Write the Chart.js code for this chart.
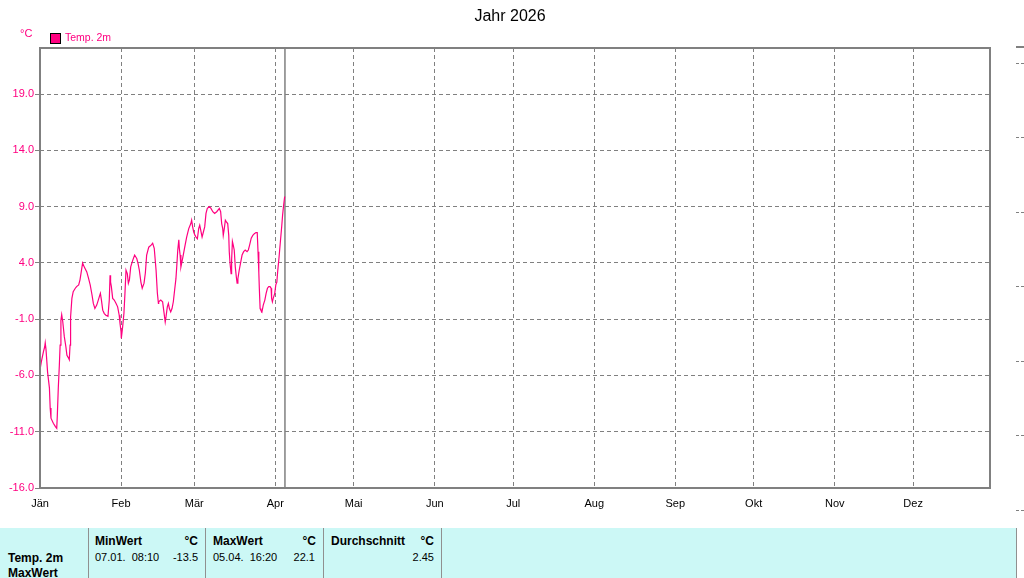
<!DOCTYPE html>
<html>
<head>
<meta charset="utf-8">
<script src="https://cdn.jsdelivr.net/npm/chart.js@4"></script>
<style>
  html, body { margin:0; padding:0; background:#fff; width:1024px; height:578px; overflow:hidden; font-family:"Liberation Sans", Arial, sans-serif; }
  #wrap { position:absolute; left:0; top:0; width:1024px; height:520px; }
  .abs { position:absolute; white-space:pre; }
  #title { left:0; width:1020px; top:7px; text-align:center; font-size:16px; color:#000; }
  #unit { left:20px; top:27px; font-size:11px; color:#ff0080; }
  #legbox { left:50px; top:33px; width:9px; height:9px; background:#ff0080; border:1px solid #000; }
  #legtxt { left:65px; top:31px; font-size:10.5px; color:#ff0080; }
  #table { position:absolute; left:0; top:528px; width:1016px; height:50px; background:#ccf8f6; overflow:hidden; }
  .sep { position:absolute; top:0; width:1px; height:50px; background:#909090; }
  .t { position:absolute; white-space:pre; font-size:11px; color:#000; }
  .b { font-weight:bold; font-size:12px; }
  .r { text-align:right; }
  .rdash { position:absolute; left:1016px; width:8px; height:0; border-top:1px dashed #808080; }
</style>
</head>
<body>
<div id="wrap"><canvas id="c" width="1024" height="520"></canvas></div>
<div id="title" class="abs">Jahr 2026</div>
<div id="unit" class="abs">°C</div>
<div id="legbox" class="abs"></div>
<div id="legtxt" class="abs">Temp. 2m</div>

<div id="table">
  <div class="sep" style="left:88px"></div>
  <div class="sep" style="left:205px"></div>
  <div class="sep" style="left:323px"></div>
  <div class="sep" style="left:441px"></div>
  <div class="t b" style="left:8px; top:23px">Temp. 2m</div>
  <div class="t b" style="left:8px; top:38px">MaxWert</div>
  <div class="t b" style="left:95px; top:6px">MinWert</div>
  <div class="t b r" style="left:150px; width:48px; top:6px">°C</div>
  <div class="t" style="left:95px; top:23px">07.01.  08:10</div>
  <div class="t r" style="left:150px; width:48px; top:23px">-13.5</div>
  <div class="t b" style="left:213px; top:6px">MaxWert</div>
  <div class="t b r" style="left:270px; width:46px; top:6px">°C</div>
  <div class="t" style="left:213px; top:23px">05.04.  16:20</div>
  <div class="t r" style="left:270px; width:45px; top:23px">22.1</div>
  <div class="t b" style="left:331px; top:6px">Durchschnitt</div>
  <div class="t b r" style="left:390px; width:44px; top:6px">°C</div>
  <div class="t r" style="left:390px; width:44px; top:23px">2.45</div>
</div>
<div class="abs" style="left:1016px; top:528px; width:1px; height:50px; background:#909090"></div>
<div class="abs" style="left:1016px; top:46px; width:8px; height:2px; background:#808080"></div>
<div class="rdash" style="top:63px"></div>
<div class="rdash" style="top:137px"></div>
<div class="rdash" style="top:212px"></div>
<div class="rdash" style="top:286px"></div>
<div class="rdash" style="top:361px"></div>
<div class="rdash" style="top:435px"></div>
<div class="rdash" style="top:510px"></div>

<script>
// ---- data ----
const monthStarts = [0,31,59,90,120,151,181,212,243,273,304,334];
const monthLabels = ["Jän","Feb","Mär","Apr","Mai","Jun","Jul","Aug","Sep","Okt","Nov","Dez"];
const yTicks = [-16,-11,-6,-1,4,9,14,19];
const seriesName = "Temp. 2m";
const nowDay = 93.7;
const days = [0.0,0.5,1.3,1.8,2.0,2.3,2.9,3.6,3.9,4.2,5.1,5.9,6.4,6.6,7.0,7.4,7.7,8.0,8.3,8.7,9.3,9.9,10.3,11.0,11.2,11.5,11.7,12.2,12.7,13.5,14.0,14.8,15.3,15.7,16.3,16.9,17.9,18.6,19.2,19.9,20.4,21.0,21.7,22.3,22.7,23.1,23.5,24.0,24.6,25.2,26.0,26.5,26.8,27.0,27.3,27.8,28.4,29.1,29.7,30.3,30.6,31.0,31.1,31.6,32.1,32.5,32.9,33.4,33.8,34.2,34.7,35.5,36.2,37.0,37.5,38.0,38.6,39.1,39.8,40.3,40.8,41.6,42.6,43.1,43.7,44.4,44.9,45.3,45.4,46.2,46.9,47.4,47.9,48.2,48.7,49.1,49.5,50.0,50.5,51.0,51.5,52.0,52.3,52.7,53.1,53.3,53.6,53.9,54.3,54.8,55.4,56.1,56.9,57.7,58.0,58.4,58.8,59.3,59.7,60.2,60.7,61.1,61.5,62.0,62.5,63.0,63.5,64.0,64.8,65.4,66.1,66.8,67.6,68.6,69.1,69.5,69.9,70.1,70.5,70.9,71.3,71.8,72.2,72.4,72.7,73.1,73.3,73.6,73.9,74.3,74.7,75.1,75.4,75.7,76.2,76.8,77.3,77.9,78.5,79.2,79.7,80.2,80.8,81.4,82.0,82.6,83.1,83.4,83.7,83.9,84.2,84.5,84.9,85.4,86.0,86.5,87.0,87.5,88.0,88.4,88.6,88.9,89.2,89.8,90.2,90.6,90.9,91.4,91.9,92.5,92.8,93.2,93.6];
const temps = [-5.5,-4.8,-3.9,-3.45,-3.1,-3.7,-5.7,-7.1,-8.9,-9.8,-10.25,-10.55,-10.7,-9.7,-7.1,-5.1,-3.3,-1.1,-0.6,-1.2,-2.55,-3.45,-4.2,-4.5,-4.6,-3.3,-0.8,0.85,1.45,1.75,1.9,2.05,2.5,3.1,4.0,3.65,3.2,2.6,2.05,1.15,0.4,-0.05,0.25,0.7,1.0,1.3,0.7,-0.2,-0.5,-0.65,-0.75,0.7,2.9,2.3,1.9,0.85,0.7,0.4,0.1,-0.65,-1.35,-2.1,-2.7,-1.7,-0.5,1.3,3.35,3.05,2.2,2.5,3.65,4.25,4.7,4.4,3.95,3.35,2.3,1.75,2.2,3.1,4.7,5.4,5.6,5.75,5.3,3.35,1.3,0.4,0.55,0.7,0.55,-0.35,-1.25,-0.8,0.1,0.4,-0.05,-0.35,-0.05,0.55,1.6,2.6,3.65,5.15,6.05,5.3,4.7,3.65,4.1,4.7,5.45,6.3,7.05,7.5,7.8,7.2,6.75,6.45,6.3,6.15,7.05,7.35,6.9,6.3,6.75,7.2,8.4,8.85,9.0,8.85,8.55,8.4,8.55,8.85,8.55,7.5,7.05,6.45,7.05,7.8,7.65,7.5,6.45,5.0,3.95,3.05,4.25,5.9,5.6,5.15,3.65,2.75,2.2,2.6,3.35,4.1,4.7,5.0,5.15,5.0,5.15,5.6,6.2,6.45,6.6,6.7,6.7,5.0,3.2,1.75,-0.05,-0.2,-0.35,0.25,0.7,1.3,1.75,1.9,1.9,1.75,0.85,0.55,0.85,1.3,2.05,2.3,3.2,4.4,5.75,7.35,8.25,9.15,9.9];
const yMin = -16, yMax = 23.1, xMax = 363.4;

const frame = {
  id: 'frame',
  afterDraw(chart) {
    const {ctx, chartArea:a} = chart;
    ctx.save();
    ctx.strokeStyle = '#808080';
    ctx.lineWidth = 2;
    ctx.strokeRect(a.left, a.top, a.right - a.left, a.bottom - a.top);
    ctx.restore();
  }
};

new Chart(document.getElementById('c'), {
  type: 'line',
  data: {
    datasets: [
      { label: seriesName, data: days.map((d,i)=>({x:d, y:temps[i]})), borderColor:'#ff0080', backgroundColor:'#ff0080', borderWidth:1.2, pointRadius:0, tension:0 },
      { label: 'jetzt', data: [{x:nowDay,y:yMin},{x:nowDay,y:yMax}], borderColor:'#808080', borderWidth:1.5, pointRadius:0 }
    ]
  },
  options: {
    responsive: false,
    animation: false,
    layout: { padding: { top: 48, right: 34, left: 0, bottom: 0 } },
    plugins: { legend: { display:false }, title: { display:false }, tooltip: { enabled:false } },
    scales: {
      x: {
        type: 'linear', min: 0, max: xMax,
        afterBuildTicks: s => { s.ticks = monthStarts.map(v => ({value:v})); },
        afterFit: s => { s.height = 32; },
        ticks: { callback: v => monthLabels[monthStarts.indexOf(v)], color:'#000', font:{family:'Liberation Sans', size:11}, padding:9, maxRotation:0, autoSkip:false },
        grid: { color:'#808080', borderDash:[4,3], drawTicks:false },
        border: { display:false, dash:[4,3] }
      },
      y: {
        min: yMin, max: yMax,
        afterBuildTicks: s => { s.ticks = yTicks.map(v => ({value:v})); },
        afterFit: s => { s.width = 40; },
        ticks: { callback: v => Number(v).toFixed(1), color:'#ff0080', font:{family:'Liberation Sans', size:11}, padding:1, autoSkip:false },
        grid: { color:'#808080', drawTicks:true, tickLength:5, tickColor:'#808080', tickBorderDash:[] },
        border: { display:false, dash:[4,3] }
      }
    }
  },
  plugins: [frame]
});
</script>
</body>
</html>
